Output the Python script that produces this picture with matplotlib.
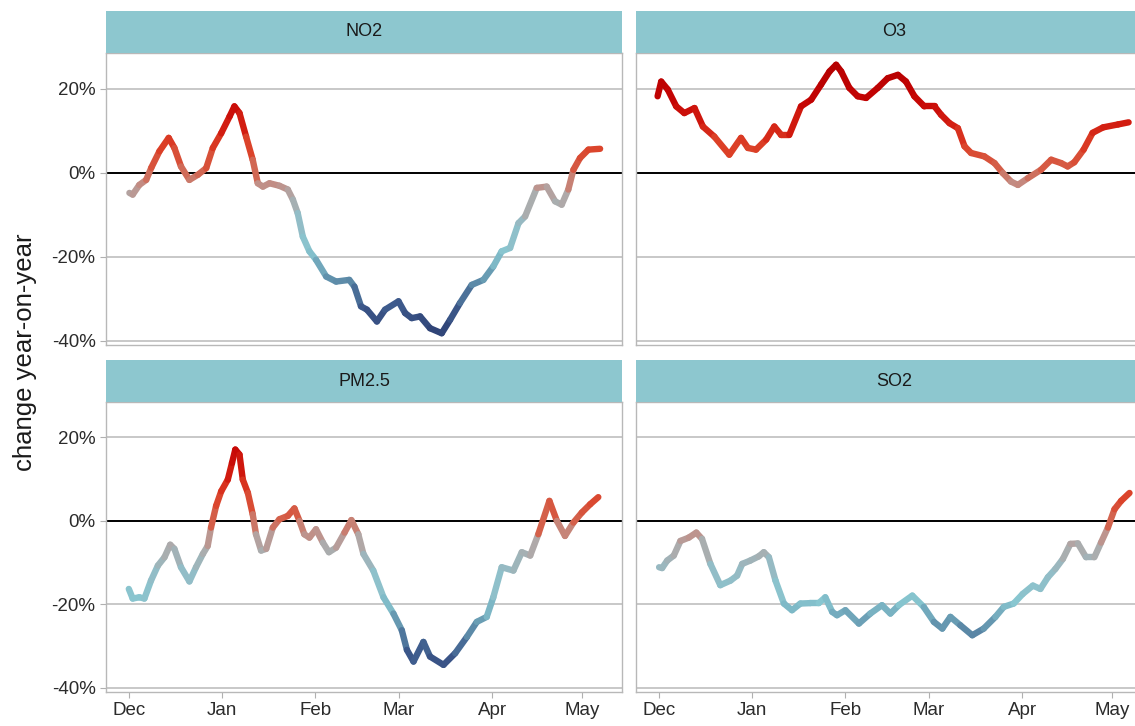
import numpy as np
import pandas as pd
import matplotlib
matplotlib.use('Agg')
import matplotlib.pyplot as plt
import matplotlib.dates as mdates
from matplotlib.collections import LineCollection
from matplotlib.colors import LinearSegmentedColormap, Normalize

plt.rcParams['font.family'] = ['Liberation Sans', 'DejaVu Sans']

# days since 1 Dec, change year-on-year in %
no2_days = [0.1, 1.2, 3.4, 5.7, 7.4, 10.1, 13.2, 15.1, 17.3, 20.1, 22.9, 25.7, 27.9, 30.7, 33.5, 35.1,
            36.8, 39.0, 41.2, 42.9, 44.6, 46.8, 50.1, 52.9, 54.6, 56.2, 57.9, 60.1, 62.3, 65.7, 69.0,
            73.4, 75.1, 77.3, 79.3, 82.6, 85.3, 89.8, 92.0, 94.2, 97.0, 100.3, 104.2, 107.0, 110.3,
            114.2, 118.1, 121.4, 124.2, 127.0, 129.8, 132.0, 135.9, 139.2, 142.0, 144.2, 146.4,
            148.1, 150.3, 153.1, 157.0]
no2_vals = [-4.8, -5.2, -2.9, -1.7, 1.2, 5.1, 8.3, 5.9, 1.5, -1.7, -0.5, 1.1, 5.9, 9.4, 13.4, 15.8,
            14.2, 8.6, 3.1, -2.5, -3.3, -2.5, -3.1, -4.0, -6.4, -9.6, -15.2, -18.7, -20.7, -24.7, -25.9,
            -25.5, -27.1, -31.8, -32.6, -35.4, -32.6, -30.6, -33.4, -34.6, -34.2, -37.0, -38.2, -35.0, -31.0,
            -26.7, -25.5, -22.3, -18.7, -17.9, -12.0, -10.4, -3.6, -3.3, -6.8, -7.6, -4.0,
            0.7, 3.5, 5.5, 5.7]

o3_days = [-0.5, 0.7, 2.9, 5.7, 8.4, 11.8, 14.6, 18.4, 23.4, 27.3, 29.6, 32.3, 35.7, 38.4, 40.7,
           43.4, 47.3, 50.7, 54.0, 56.8, 59.0, 60.7, 63.4, 66.2, 69.0, 72.9, 76.2, 79.6, 82.3, 85.1,
           88.4, 91.8, 94.0, 96.8, 99.6, 101.8, 104.0, 108.4, 111.8, 114.6, 117.3, 119.6, 122.9,
           127.3, 130.7, 134.0, 136.2, 138.4, 141.5, 144.5, 148.0, 153.0, 156.5]
o3_vals = [18.2, 21.7, 19.8, 15.8, 14.2, 15.4, 11.0, 8.6, 4.3, 8.3, 5.9, 5.5, 7.9, 11.0, 9.0,
           9.0, 15.8, 17.4, 21.0, 24.1, 25.7, 24.1, 20.2, 18.2, 17.8, 20.2, 22.5, 23.3, 21.7, 18.2,
           15.8, 15.8, 13.8, 11.8, 10.6, 6.3, 4.7, 3.9, 2.3, -0.1, -2.1, -2.9, -1.3,
           0.7, 3.1, 2.3, 1.5, 2.5, 5.5, 9.5, 10.8, 11.5, 12.0]

pm25_days = [-0.1, 1.2, 3.4, 5.1, 7.3, 9.6, 11.8, 13.7, 15.1, 17.3, 20.1, 22.3, 24.6, 26.2, 27.3,
             29.0, 30.7, 32.9, 34.3, 35.4, 36.8, 37.9, 39.6, 41.2, 42.3, 44.0, 45.7, 47.9, 50.1,
             52.9, 55.1, 56.8, 58.4, 60.1, 62.3, 64.6, 66.6, 69.0, 71.8, 74.1, 76.4, 78.1, 81.4,
             84.8, 88.1, 90.9, 92.6, 94.8, 98.1, 100.3, 104.8, 108.7, 112.6, 115.9, 119.2, 121.4,
             124.2, 128.1, 130.9, 133.7, 136.4, 140.1, 142.6, 145.3, 148.1, 150.9, 153.7, 156.4]
pm25_vals = [-16.3, -18.6, -18.3, -18.6, -14.3, -10.7, -8.7, -5.7, -6.7, -11.1, -14.5, -11.1, -7.9, -6.0, -1.6,
             3.6, 7.1, 9.9, 13.9, 17.1, 15.9, 9.9, 6.7, 1.6, -3.2, -7.1, -6.7, -1.6, 0.4,
             1.2, 3.0, 0.0, -3.2, -4.0, -2.0, -5.2, -7.5, -6.4, -2.8, 0.2, -3.2, -7.9, -11.9,
             -18.3, -22.2, -26.2, -30.9, -33.7, -29.0, -32.5, -34.5, -31.7, -27.8, -24.2, -23.0, -18.3,
             -11.1, -11.9, -7.5, -8.3, -3.2, 4.8, 0.0, -3.6, -0.4, 2.0, 4.0, 5.7]

so2_days = [0.0, 1.0, 2.7, 4.9, 7.1, 9.9, 12.4, 14.3, 17.1, 20.4, 23.8, 26.0, 27.7, 30.4, 33.2,
            34.9, 36.6, 38.8, 41.6, 44.3, 47.1, 50.4, 53.2, 55.4, 57.7, 59.3, 62.1, 66.6, 70.4,
            74.3, 77.1, 79.9, 84.4, 88.2, 91.6, 94.4, 97.1, 100.4, 104.4, 108.2, 112.1, 114.9,
            118.2, 121.2, 124.6, 127.1, 129.6, 132.1, 134.6, 137.1, 139.6, 142.3, 145.1, 147.3,
            149.6, 151.8, 154.0, 156.8]
so2_vals = [-11.1, -11.3, -9.5, -8.3, -4.8, -4.0, -2.8, -4.3, -10.3, -15.4, -14.3, -13.1, -10.3, -9.5, -8.5,
            -7.5, -8.7, -14.3, -19.8, -21.4, -19.8, -19.7, -19.7, -18.3, -21.8, -22.6, -21.4, -24.6, -22.2,
            -20.2, -22.2, -20.2, -17.9, -20.6, -24.2, -25.8, -23.0, -25.0, -27.4, -25.8, -23.0, -20.6,
            -19.8, -17.5, -15.5, -16.3, -13.5, -11.5, -9.1, -5.5, -5.4, -8.7, -8.7, -5.2,
            -1.6, 2.8, 4.8, 6.7]

pollutants = ['NO2', 'O3', 'PM2.5', 'SO2']
series = {'NO2': (no2_days, no2_vals), 'O3': (o3_days, o3_vals),
          'PM2.5': (pm25_days, pm25_vals), 'SO2': (so2_days, so2_vals)}
yticks = [20, 0, -20, -40]
ytick_labels = ['20%', '0%', '-20%', '-40%']

start = pd.Timestamp('2018-12-01')
def to_num(days):
    return mdates.date2num(start + pd.to_timedelta(np.asarray(days, dtype=float), unit='D'))

# blue -> teal -> grey -> red colour ramp on the value
cmap = LinearSegmentedColormap.from_list('chg', [
    (0.00, '#2a3b6e'), (0.12, '#3d5a8c'), (0.22, '#6293ad'), (0.31, '#88c6d0'),
    (0.41, '#93bcc6'), (0.50, '#aeaaaa'), (0.555, '#c48a80'), (0.60, '#d4604a'),
    (0.68, '#dc4128'), (0.76, '#d21c10'), (0.85, '#c40404'), (1.00, '#b00000')])
norm = Normalize(-40, 28)

W, H = 1135, 726
fig = plt.figure(figsize=(W / 100, H / 100), dpi=100)

# panel boxes in pixels: left, top, width, height
boxes = {'NO2': (106, 53, 516, 292), 'O3': (636, 53, 516, 292),
         'PM2.5': (106, 402, 516, 290), 'SO2': (636, 402, 516, 290)}
strip_h = 42
xmin, xmax = to_num([-7.7, 164.3])

for i, name in enumerate(pollutants):
    l, t, w, h = boxes[name]
    ax = fig.add_axes([l / W, 1 - (t + h) / H, w / W, h / H])
    sx = fig.add_axes([l / W, 1 - t / H, w / W, strip_h / H])
    sx.set_facecolor('#8dc7cf')
    sx.set_xticks([]); sx.set_yticks([])
    for s in sx.spines.values():
        s.set_visible(False)
    sx.text(0.5, 0.5, name, ha='center', va='center', fontsize=13, color='#1a1a1a',
            transform=sx.transAxes)

    d, v = series[name]
    x = to_num(d)
    v = np.asarray(v)
    pts = np.column_stack([x, v]).reshape(-1, 1, 2)
    segs = np.concatenate([pts[:-1], pts[1:]], axis=1)
    lc = LineCollection(segs, cmap=cmap, norm=norm, linewidths=4.6, capstyle='round',
                        joinstyle='round', zorder=3)
    lc.set_array((v[:-1] + v[1:]) / 2)
    ax.add_collection(lc)

    ax.axhline(0, color='black', lw=1.4, zorder=2)
    ax.set_xlim(xmin, xmax)
    ax.set_ylim(-41, 28.5)
    ax.set_yticks(yticks)
    ax.yaxis.grid(True, color='#c4c4c4', lw=1.3)
    ax.set_axisbelow(True)
    for s in ax.spines.values():
        s.set_color('#b8b8b8')
        s.set_linewidth(1.0)
    ax.xaxis.set_major_locator(mdates.MonthLocator())
    ax.xaxis.set_major_formatter(mdates.DateFormatter('%b'))
    ax.tick_params(length=4, color='#b0b0b0', labelsize=13.5, labelcolor='#2b2b2b')
    if i % 2 == 0:
        ax.set_yticklabels(ytick_labels)
    else:
        ax.tick_params(axis='y', left=False, labelleft=False)
    if i < 2:
        ax.tick_params(axis='x', bottom=False, labelbottom=False)

fig.text(25 / W, 1 - 352 / H, 'change year-on-year', rotation=90, ha='center', va='center',
         fontsize=18.5, color='#1a1a1a')

fig.savefig('out.png', dpi=100)
